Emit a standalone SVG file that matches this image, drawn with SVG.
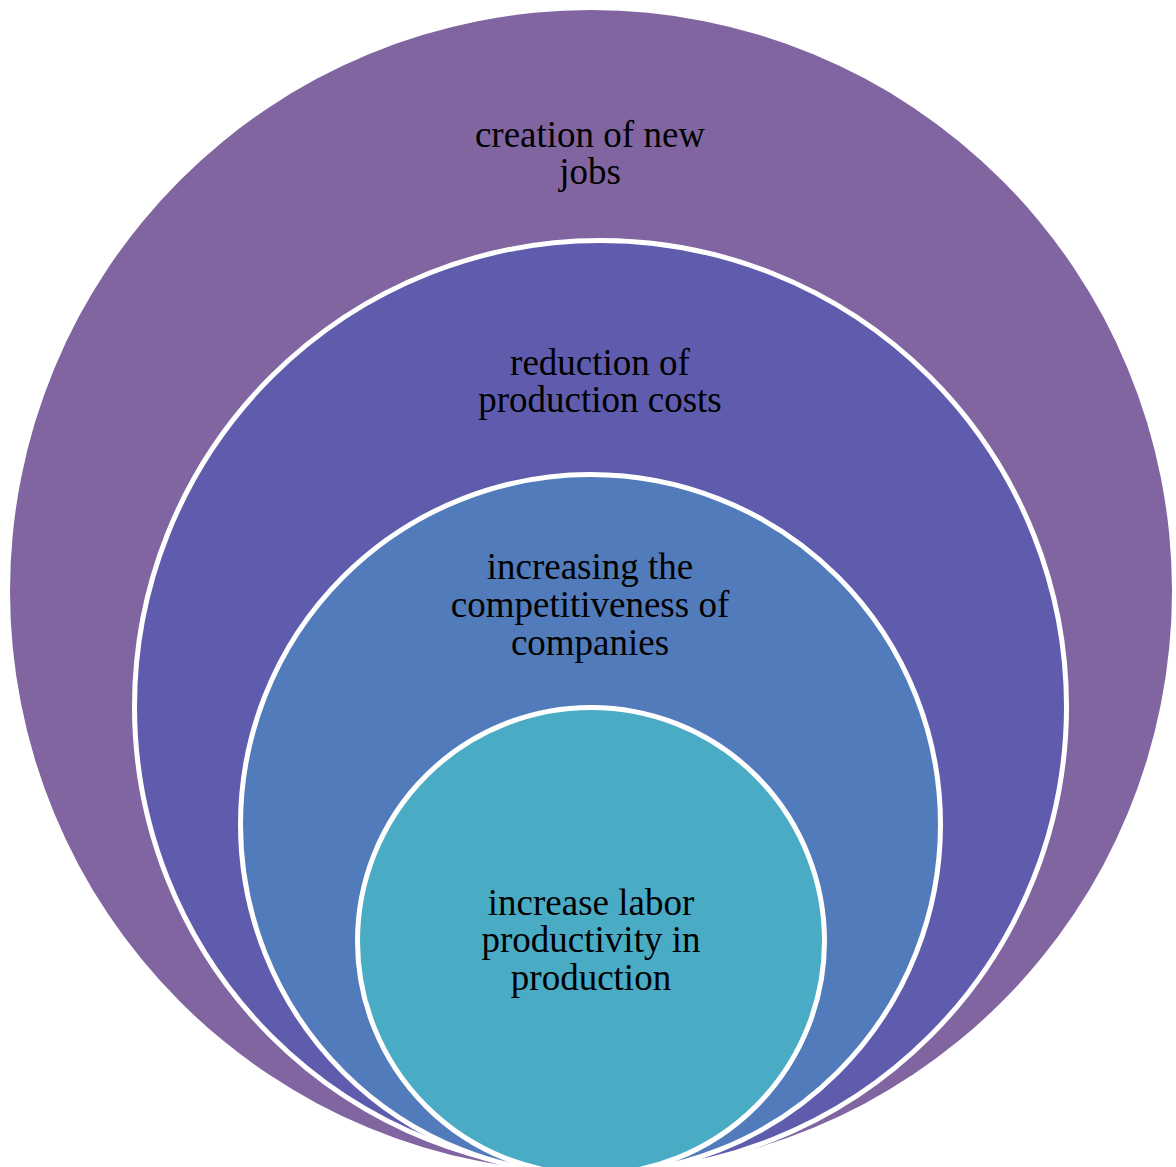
<svg xmlns="http://www.w3.org/2000/svg" width="1176" height="1167" viewBox="0 0 1176 1167">
<style>
.ring{stroke:#FFFFFF;stroke-width:5}
.lbl{font-family:"Liberation Serif","Times New Roman",serif;font-size:37px;fill:#000000;text-anchor:middle}
</style>
<rect x="0" y="0" width="1176" height="1167" fill="#FFFFFF"/>
<g id="node-jobs">
<circle cx="591" cy="591" r="581" fill="#8065A1"/>
<text class="lbl" x="590" y="147">creation of new</text>
<text class="lbl" x="590" y="184">jobs</text>
</g>
<g id="node-costs">
<circle class="ring" cx="600.5" cy="706.5" r="466" fill="#5F5CAE"/>
<text class="lbl" x="600" y="375">reduction of</text>
<text class="lbl" x="600" y="412">production costs</text>
</g>
<g id="node-competitiveness">
<circle class="ring" cx="590.5" cy="824.5" r="350" fill="#527BBB"/>
<text class="lbl" x="590" y="579">increasing the</text>
<text class="lbl" x="590" y="617">competitiveness of</text>
<text class="lbl" x="590" y="655">companies</text>
</g>
<g id="node-productivity">
<circle class="ring" cx="591" cy="941" r="233.5" fill="#4AABC5"/>
<text class="lbl" x="591" y="915">increase labor</text>
<text class="lbl" x="591" y="952">productivity in</text>
<text class="lbl" x="591" y="990">production</text>
</g>
<g id="connectors"></g>
</svg>
